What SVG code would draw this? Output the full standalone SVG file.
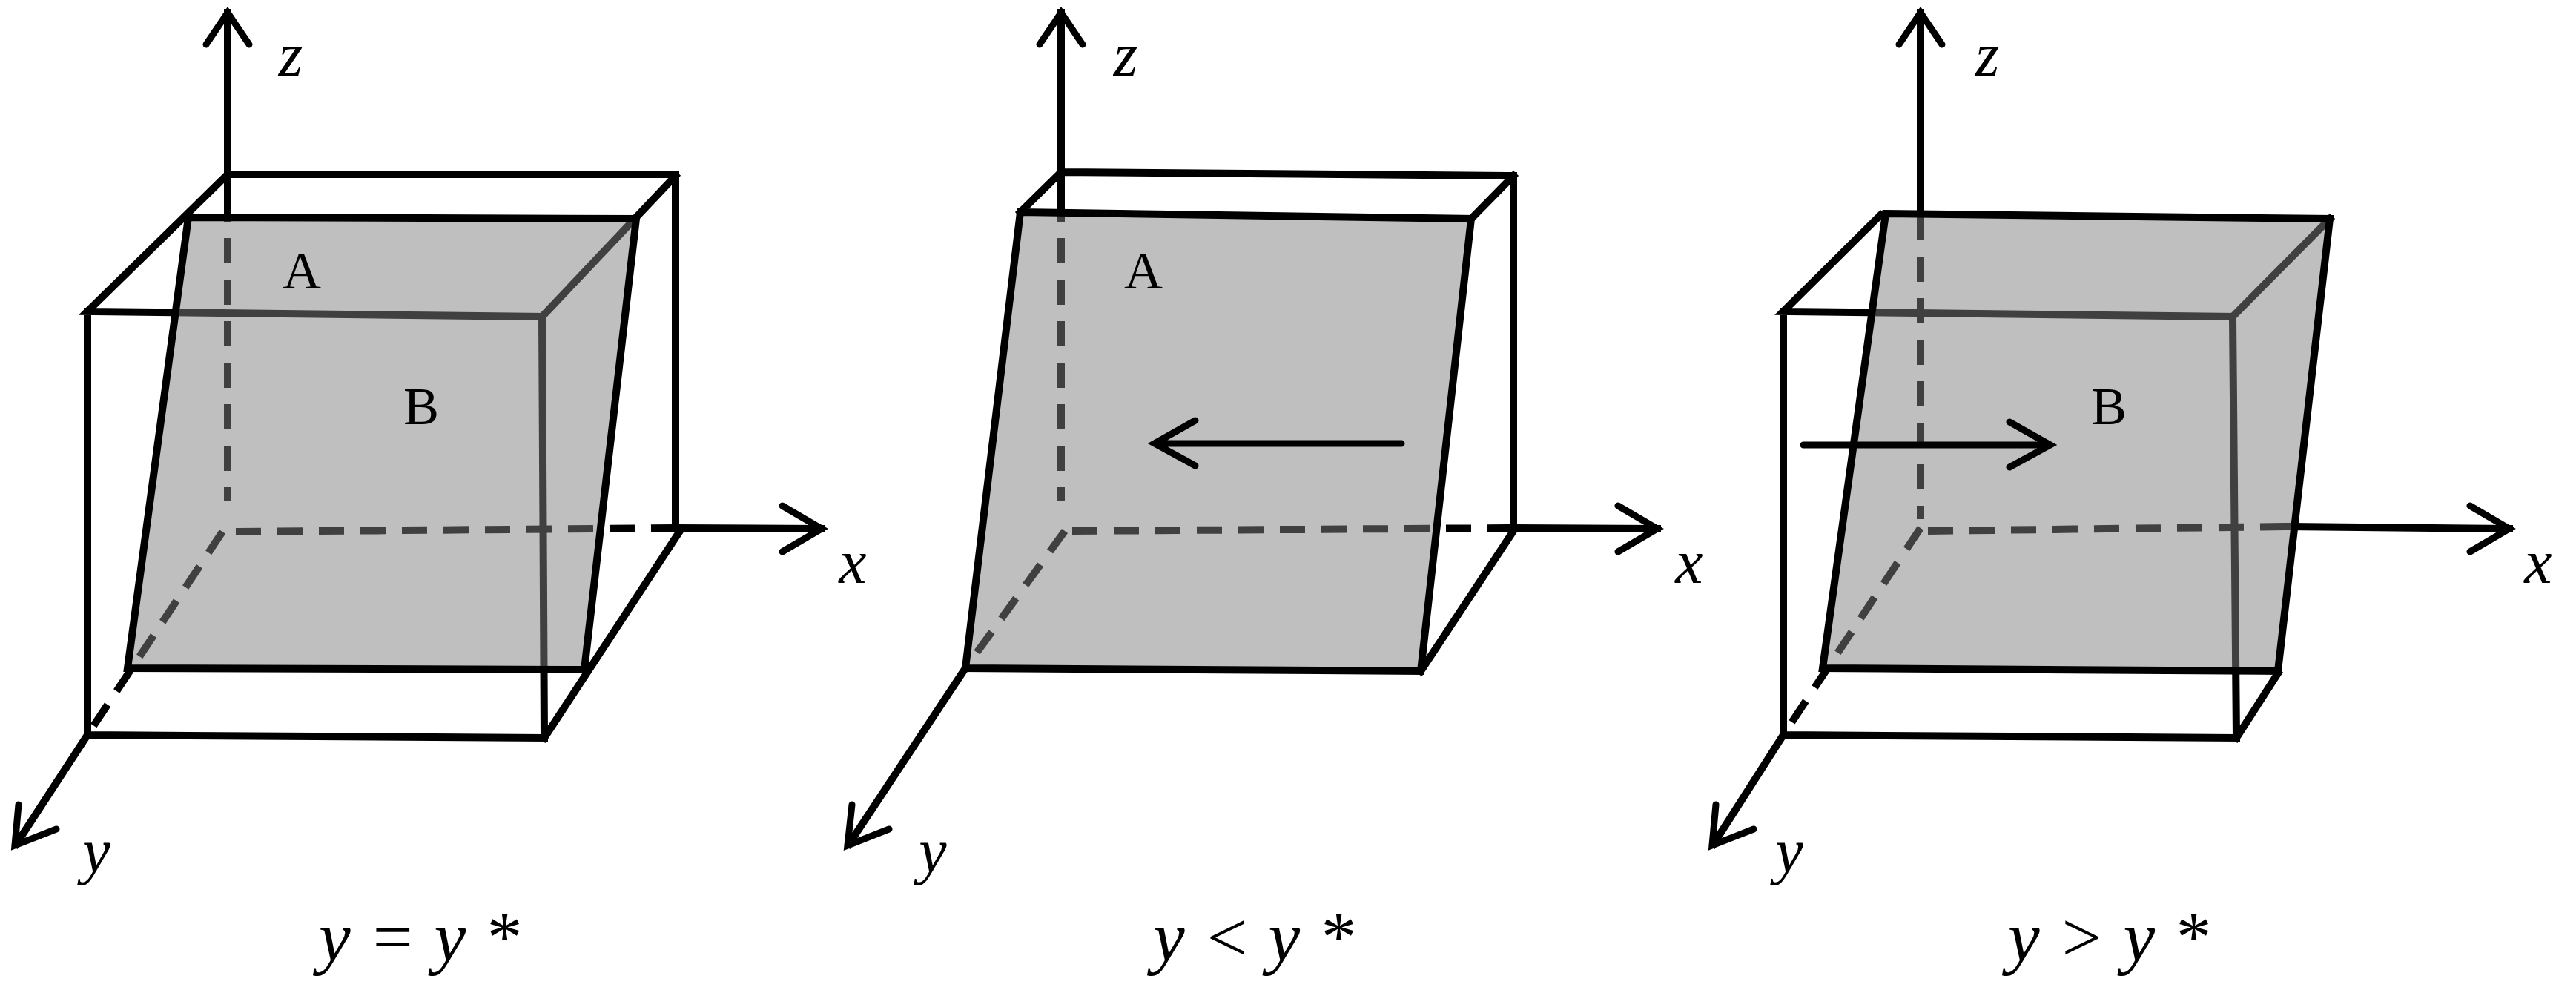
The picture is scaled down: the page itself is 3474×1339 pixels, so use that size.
<svg xmlns="http://www.w3.org/2000/svg" width="3474" height="1339" viewBox="0 0 3474 1339">
<style>
.l{stroke:#000;stroke-width:10;fill:none;stroke-linecap:square}
.d{stroke:#000;stroke-width:10;fill:none;stroke-dasharray:34,22}
.h{stroke:#000;stroke-width:9;fill:none;stroke-linecap:round;stroke-linejoin:miter}
.p{fill:#808080;fill-opacity:0.5;stroke:none}
.po{fill:none;stroke:#000;stroke-width:10;stroke-linejoin:miter}
.lab{font-family:"Liberation Serif",serif;font-size:72px;text-anchor:middle}
.ax{font-family:"Liberation Serif",serif;font-style:italic;font-size:84px;text-anchor:middle}
.cap{font-family:"Liberation Serif",serif;font-style:italic;font-size:96px;text-anchor:middle}
</style>
<g id="panel1">
<path class="l" d="M307,235 L911,235 L911,710 M307,235 L118,420 L731,427 L734,995 L118,991 L118,420 M911,237 L731,427 M917,716 L734,995"/>
<path class="l" d="M307,17 L307,265 M911,712 L1108,713 M118,991 L22,1138"/>
<path class="d" d="M307,265 L307,675 M318,717 L911,712 M300,717 L118,991"/>
<path class="h" d="M278,60 L307,17 L336,60 M1055,682 L1108,713 L1055,744 M25,1085 L20,1140 L76,1118"/>
<polygon class="p" points="254,293 858,295 788,903 172,901"/>
<polygon class="po" points="254,293 858,295 788,903 172,901"/>
<text class="lab" x="407" y="389">A</text>
<text class="lab" x="568" y="572">B</text>
<text class="ax" x="392" y="102">z</text>
<text class="ax" x="1150" y="786">x</text>
<text class="ax" x="130" y="1176">y</text>
<text class="cap" x="565" y="1296" xml:space="preserve">y = y *</text>
</g>
<g id="panel2">
<path class="l" d="M1431,232 L2041,237 L2041,710 M1431,232 L1376,286 M2041,237 L1984,295 M2041,716 L1916,905"/>
<path class="l" d="M1431,17 L1431,265 M2041,712 L2235,713 M1302,901 L1145,1138"/>
<path class="d" d="M1431,265 L1431,675 M1446,716 L2041,712 M1436,716 L1302,901"/>
<path class="h" d="M1402,60 L1431,17 L1460,60 M2182,682 L2235,713 L2182,744 M1149,1085 L1143,1140 L1199,1118"/>
<polygon class="p" points="1376,286 1984,295 1916,905 1302,901"/>
<polygon class="po" points="1376,286 1984,295 1916,905 1302,901"/>
<path class="h" d="M1890,598 L1557,598 M1612,567 L1557,598 L1612,628"/>
<text class="lab" x="1542" y="389">A</text>
<text class="ax" x="1518" y="102">z</text>
<text class="ax" x="2278" y="786">x</text>
<text class="ax" x="1258" y="1176">y</text>
<text class="cap" x="1690" y="1296" xml:space="preserve">y &lt; y *</text>
</g>
<g id="panel3">
<path class="l" d="M2536,290 L2405,420 L3011,427 L3016,995 L2405,991 L2405,420 M3142,295 L3011,427 M3072,908 L3016,995"/>
<path class="l" d="M2590,17 L2590,290 M3087,710 L3384,713 M2405,991 L2311,1138"/>
<path class="d" d="M2590,290 L2590,700 M2600,716 L3087,710 M2590,712 L2405,991"/>
<path class="h" d="M2561,60 L2590,17 L2619,60 M3331,682 L3384,713 L3331,744 M2314,1085 L2309,1140 L2365,1118"/>
<polygon class="p" points="2543,288 3142,295 3072,905 2458,901"/>
<polygon class="po" points="2543,288 3142,295 3072,905 2458,901"/>
<path class="h" d="M2432,600 L2765,600 M2710,569 L2765,600 L2710,630"/>
<text class="lab" x="2844" y="572">B</text>
<text class="ax" x="2680" y="102">z</text>
<text class="ax" x="3423" y="786">x</text>
<text class="ax" x="2413" y="1176">y</text>
<text class="cap" x="2843" y="1296" xml:space="preserve">y &gt; y *</text>
</g>
</svg>
